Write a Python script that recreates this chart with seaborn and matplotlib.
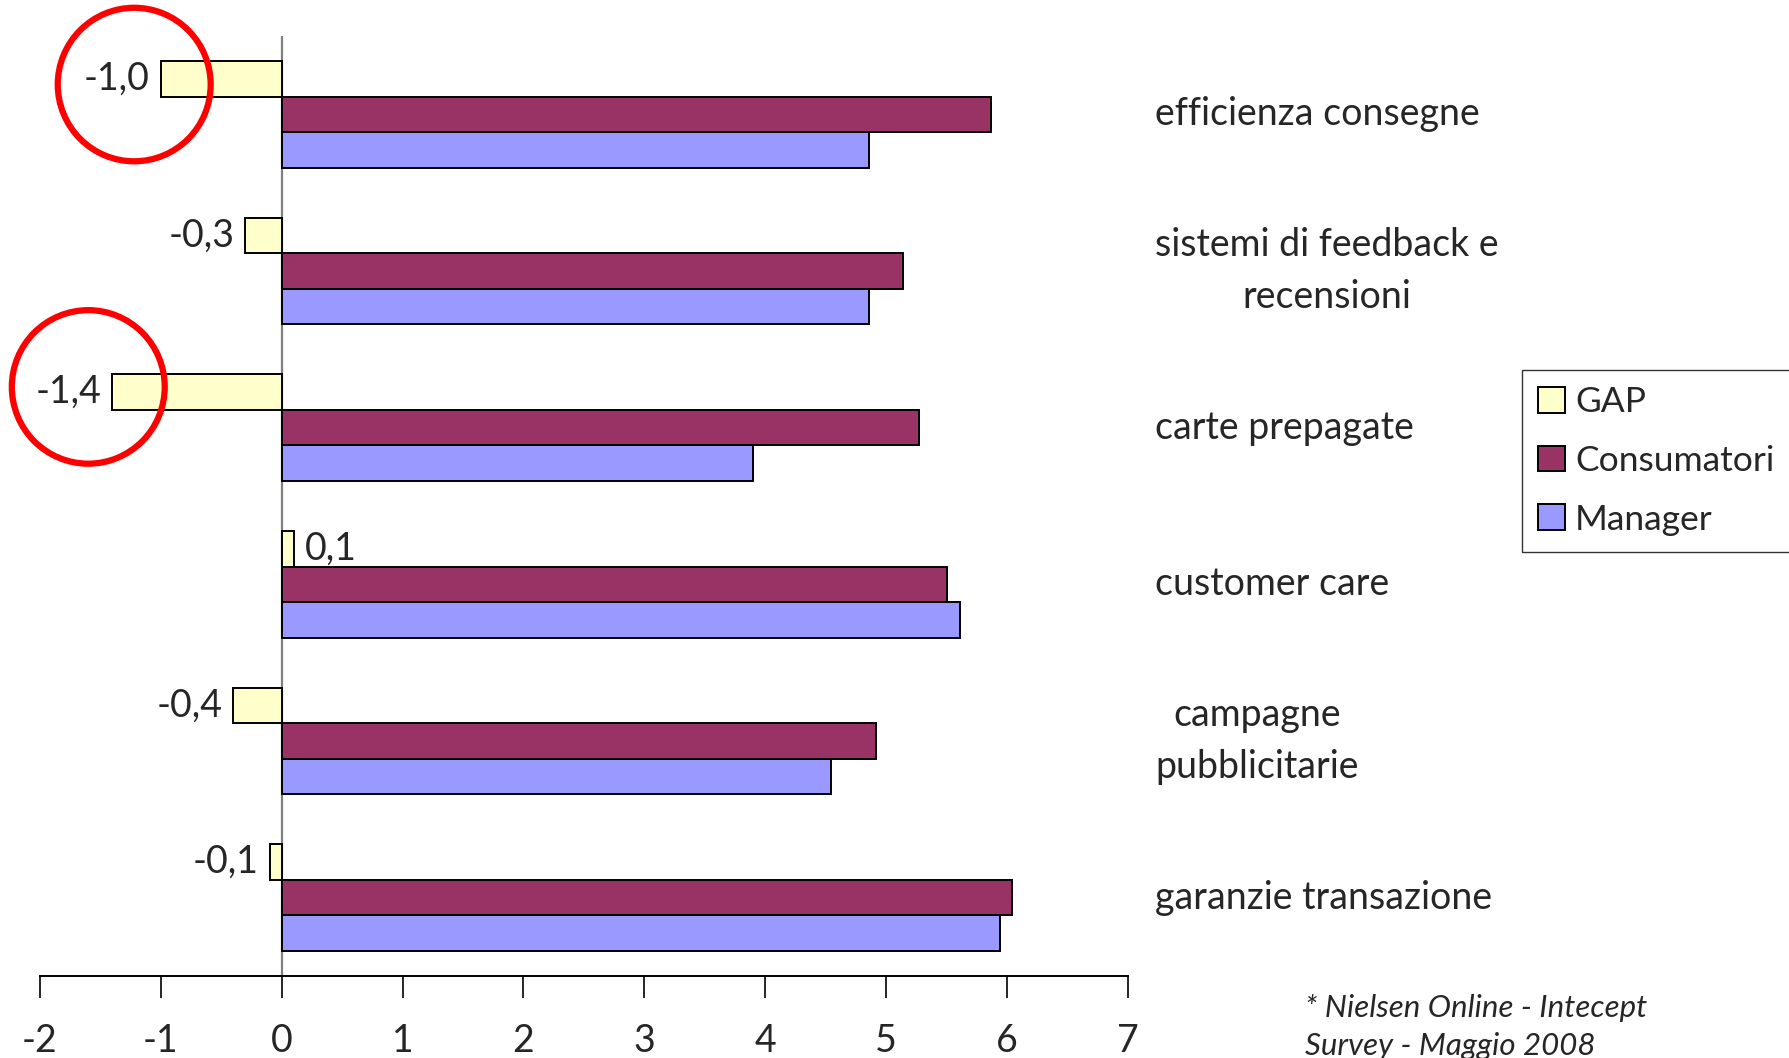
import matplotlib
matplotlib.use("Agg")
import matplotlib.pyplot as plt
from matplotlib.patches import Patch, Ellipse
import seaborn as sns
import pandas as pd

categorie = [
    "efficienza consegne",
    "sistemi di feedback e\nrecensioni",
    "carte prepagate",
    "customer care",
    "campagne\npubblicitarie",
    "garanzie transazione",
]
gap = [-1.0, -0.3, -1.4, 0.1, -0.4, -0.1]
consumatori = [5.87, 5.14, 5.27, 5.50, 4.92, 6.04]
manager = [4.86, 4.86, 3.90, 5.61, 4.54, 5.94]
serie = ["GAP", "Consumatori", "Manager"]
colori = ["#FFFFCC", "#993366", "#9999FF"]
xticks = [-2, -1, 0, 1, 2, 3, 4, 5, 6, 7]
nota = "* Nielsen Online - Intecept\nSurvey - Maggio 2008"

df = pd.DataFrame({
    "categoria": categorie * 3,
    "serie": [s for s in serie for _ in categorie],
    "valore": gap + consumatori + manager,
})

sns.set_theme(style="white")
plt.rcParams["font.family"] = ["Lato", "DejaVu Sans"]

fig = plt.figure(figsize=(17.9, 10.58), dpi=100)
ax = fig.add_axes([0.0223, 0.0775, 0.6078, 0.8885])

sns.barplot(
    data=df, y="categoria", x="valore", hue="serie", hue_order=serie,
    order=categorie, palette=colori, orient="h", width=0.68,
    saturation=1, edgecolor="black", linewidth=1.4, legend=False, ax=ax,
)

ax.set_xlim(-2, 7)
ax.set_ylim(5.5, -0.5)
ax.set_xlabel("")
ax.set_ylabel("")
ax.set_yticks([])
ax.set_xticks(xticks)
ax.set_xticklabels([str(t) for t in xticks], fontsize=27)
ax.tick_params(axis="x", direction="out", length=16, width=1.2,
               color="black", pad=18, bottom=True)
for s in ["top", "right", "left"]:
    ax.spines[s].set_visible(False)
ax.spines["bottom"].set_color("black")
ax.spines["bottom"].set_linewidth(1.4)
ax.axvline(0, color="#808080", linewidth=1.6, zorder=0.5)

# value labels on the GAP bars
gap_bars = ax.containers[0]
ax.bar_label(gap_bars, labels=[f"{v:.1f}".replace(".", ",") for v in gap],
             padding=8, fontsize=27)

# category names to the right of the plot
for i, cat in enumerate(categorie):
    ax.text(1.025, i, cat, transform=ax.get_yaxis_transform(),
            ha="left", va="center", multialignment="center", fontsize=27,
            linespacing=1.55)

# red circles highlighting the largest gaps
for (cx, cy) in [(-1.22, -0.19), (-1.60, 1.74)]:
    ax.add_patch(Ellipse((cx, cy), 1.265, 0.98, fill=False,
                         edgecolor="#FF0000", linewidth=4.5,
                         clip_on=False, zorder=5))

handles = [Patch(facecolor=c, edgecolor="black", linewidth=1.4) for c in colori]
leg = fig.legend(handles, serie, loc="upper left",
                 bbox_to_anchor=(1522 / 1790, 1 - 370 / 1058),
                 fontsize=25.5, frameon=True, fancybox=False,
                 handlelength=0.75, handleheight=0.75, handletextpad=0.3,
                 labelspacing=0.76, borderpad=0.45, borderaxespad=0)
leg.get_frame().set_edgecolor("black")
leg.get_frame().set_linewidth(1.0)

fig.text(1305 / 1790, 1 - 1027 / 1058, nota, ha="left", va="center",
         fontsize=22.5, style="italic", linespacing=1.4)

fig.savefig("out.png", dpi=100, facecolor="white")
